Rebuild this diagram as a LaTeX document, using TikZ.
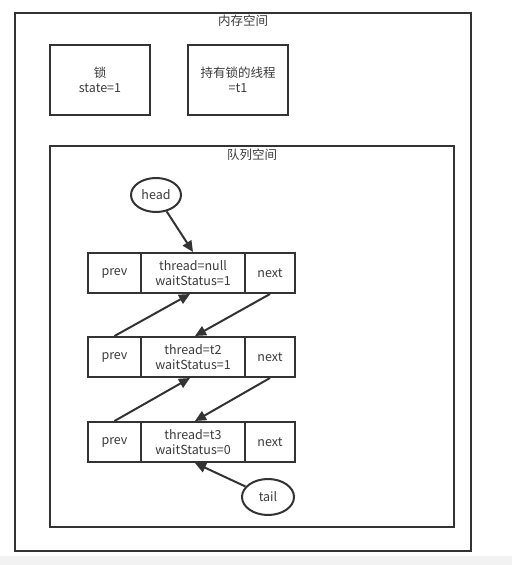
\documentclass[tikz,border=0pt]{standalone}
\usepackage{fontspec}
\setmainfont{Noto Sans CJK SC}
\usetikzlibrary{arrows.meta,shapes.geometric}
\definecolor{ln}{HTML}{333333}
\definecolor{tx}{HTML}{3A3A3A}
\definecolor{strip}{HTML}{F2F2F2}
\tikzset{
  box/.style={draw=ln,line width=2pt,minimum width=#1,inner sep=0pt,minimum height=40pt,text=tx,font=\fontsize{12.5}{15}\selectfont,align=center},
  oval/.style={ellipse,draw=ln,line width=2pt,inner sep=0pt,text=tx,font=\fontsize{12.5}{15}\selectfont},
  frame/.style={draw=ln,line width=2pt},
  ttl/.style={text=tx,font=\fontsize{12.5}{15}\selectfont,inner sep=0pt},
  conn/.style={draw=ln,line width=2pt,-{Triangle[length=11pt,width=10pt]},shorten >=0pt}
}
\begin{document}
\begin{tikzpicture}[x=1pt,y=-1pt]
\useasboundingbox (0,0) rectangle (512,565);
\fill[strip] (0,556) rectangle (512,565);
% outer frame
\draw[frame] (15,13) rectangle (471,551);
\node[ttl] (t1) at (243,21) {内存空间};
\node[box=100pt,minimum height=70pt] (lock) at (100,80) {锁\\state=1};
\node[box=100pt,minimum height=70pt] (own) at (238,80) {持有锁的线程\\=t1};
% inner frame
\draw[frame] (50,146) rectangle (454,527);
\node[ttl] (t2) at (252,155) {队列空间};
% rows
\foreach \i/\y/\t/\w in {1/273/null/1,2/357/t2/1,3/442/t3/0}{
  \node[box=53pt] (p\i) at (114.5,\y) {prev};
  \node[box=104pt] (m\i) at (193,\y) {thread=\t\\waitStatus=\w};
  \node[box=50pt] (n\i) at (270,\y) {next};
}
\node[oval,minimum width=50pt,minimum height=34pt] (head) at (156,195) {head};
\node[oval,minimum width=52pt,minimum height=36pt] (tail) at (268,497) {tail};
\draw[conn] (head) -- (m1.north);
\draw[conn] (p2.north) -- ([xshift=-3pt]m1.south);
\draw[conn] (n1.south) -- ([xshift=2pt]m2.north);
\draw[conn] (p3.north) -- ([xshift=-3pt]m2.south);
\draw[conn] (n2.south) -- ([xshift=2pt]m3.north);
\draw[conn] (tail) -- ([xshift=2pt]m3.south);
\end{tikzpicture}
\end{document}
